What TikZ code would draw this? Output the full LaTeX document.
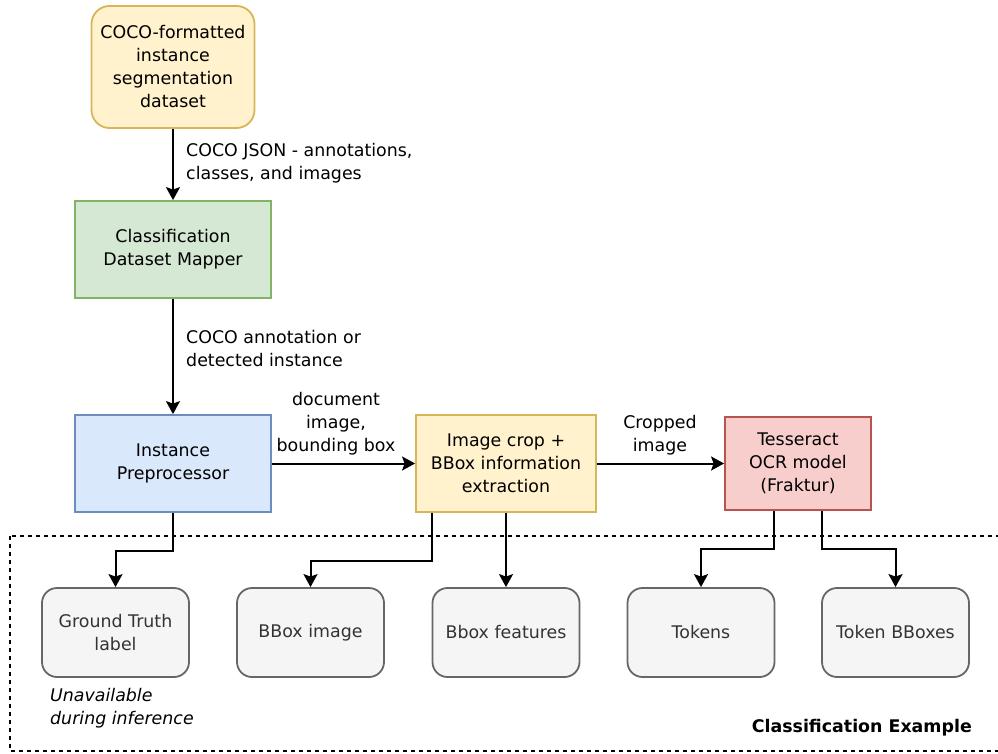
\documentclass[tikz,border=0pt]{standalone}
\usepackage{fontspec}
\setmainfont{DejaVu Sans}
\usetikzlibrary{arrows.meta}

\definecolor{yelfill}{HTML}{FFF2CC}
\definecolor{yeldraw}{HTML}{D6B656}
\definecolor{grnfill}{HTML}{D5E8D4}
\definecolor{grndraw}{HTML}{82B366}
\definecolor{blufill}{HTML}{DAE8FC}
\definecolor{bludraw}{HTML}{6C8EBF}
\definecolor{redfill}{HTML}{F8CECC}
\definecolor{reddraw}{HTML}{B85450}
\definecolor{outfill}{HTML}{F5F5F5}
\definecolor{outdraw}{HTML}{666666}
\definecolor{outtext}{HTML}{333333}

\tikzset{
  txt/.style={font=\fontsize{17.4}{23}\selectfont, inner sep=0pt},
  box/.style={txt, draw, line width=1.8pt, align=center},
  outbox/.style={box, rounded corners=15pt, fill=outfill, draw=outdraw, text=outtext,
    minimum width=147pt, minimum height=89pt},
  conn/.style={line width=2pt, -{Stealth[length=13pt,width=14pt,inset=2.5pt]}},
  lbl/.style={txt, align=left},
}

\begin{document}
\begin{tikzpicture}[x=1pt,y=-1pt]
\useasboundingbox (0,0) rectangle (998,753);

% processing pipeline
\node[box, rounded corners=18pt, fill=yelfill, draw=yeldraw,
  minimum width=163pt, minimum height=122pt] (src) at (173,67)
  {COCO-formatted\\instance\\segmentation\\dataset};
\node[box, fill=grnfill, draw=grndraw, minimum width=196pt, minimum height=97pt]
  (mapper) at (173,249.5) {Classification\\Dataset Mapper};
\node[box, fill=blufill, draw=bludraw, minimum width=196pt, minimum height=97pt]
  (prep) at (173,463.5) {Instance\\Preprocessor};
\node[box, fill=yelfill, draw=yeldraw, minimum width=180pt, minimum height=97pt]
  (crop) at (506,463.5) {Image crop +\\BBox information\\extraction};
\node[box, fill=redfill, draw=reddraw, minimum width=146pt, minimum height=93pt]
  (ocr) at (798,463.5) {Tesseract\\OCR model\\(Fraktur)};

% outputs of one classification example
\draw[line width=1.3pt, dash pattern=on 4pt off 4pt] (10,536) rectangle (1002,751);
\node[outbox, align=center] (gt) at (115.5,632.5) {Ground Truth\\label};
\node[outbox] (bbimg) at (310.5,632.5) {BBox image};
\node[outbox] (bbfeat) at (506,632.5) {Bbox features};
\node[outbox] (tok) at (701,632.5) {Tokens};
\node[outbox] (tokbb) at (895.5,632.5) {Token BBoxes};

% connectors and their labels
\draw[conn] (src.south) -- (mapper.north);
\node[lbl, anchor=west] (l1) at (186,163.5) {COCO JSON - annotations,\\classes, and images};
\draw[conn] (mapper.south) -- (prep.north);
\node[lbl, anchor=west] (l2) at (186,348.5) {COCO annotation or\\detected instance};
\draw[conn] (prep.east) -- (crop.west);
\node[txt, align=center] (l3) at (336,424) {document\\image,\\bounding box};
\draw[conn] (crop.east) -- (ocr.west);
\node[txt, align=center] (l4) at (660,435) {Cropped\\image};

\draw[conn] (prep.south) -- ++(0,38) -| (gt.north);
\draw[conn] ([xshift=17pt]crop.south west) -- ++(0,48) -| (bbimg.north);
\draw[conn] (crop.south) -- (bbfeat.north);
\draw[conn] ([xshift=-24pt]ocr.south) -- ++(0,38) -| (tok.north);
\draw[conn] ([xshift=24pt]ocr.south) -- ++(0,38) -| (tokbb.north);

\node[lbl, anchor=west, font=\fontsize{17.4}{23}\selectfont\itshape] (note) at (50,708.5)
  {Unavailable\\during inference};
\node[txt, anchor=east, font=\fontsize{17.4}{23}\selectfont\bfseries] (title) at (972,728)
  {Classification Example};
\end{tikzpicture}
\end{document}
